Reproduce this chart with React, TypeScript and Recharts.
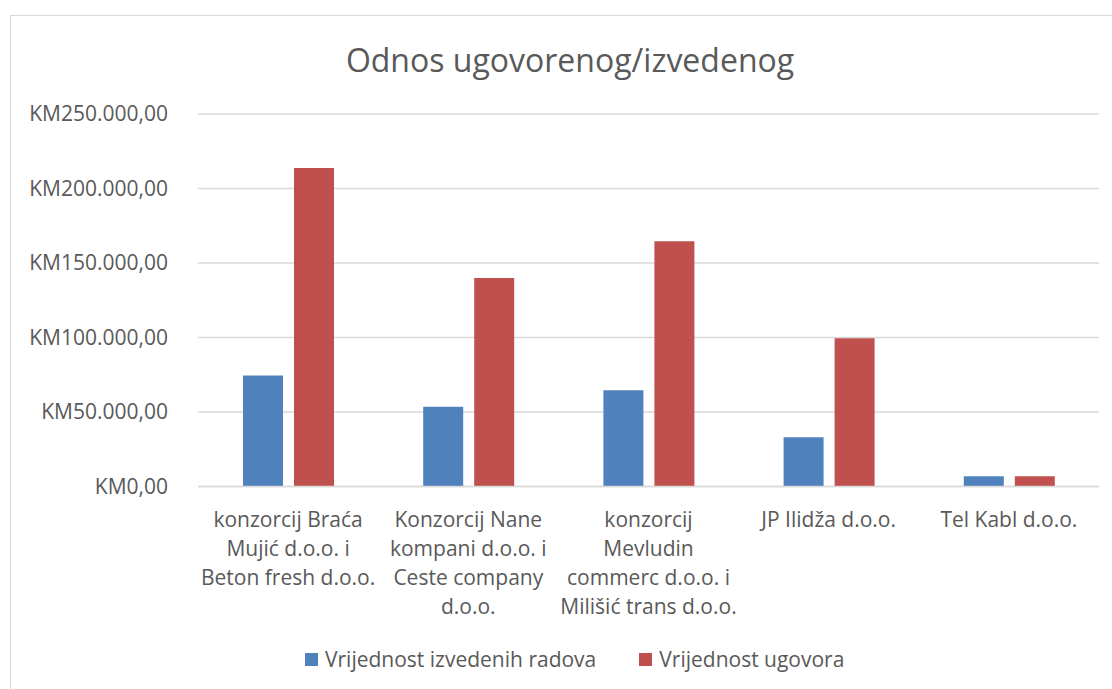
import React from "react";
import { Bar, BarChart, CartesianGrid, Legend, XAxis, YAxis } from "recharts";

const categories = [
  "konzorcij Braća\nMujić d.o.o. i\nBeton fresh d.o.o.",
  "Konzorcij Nane\nkompani d.o.o. i\nCeste company\nd.o.o.",
  "konzorcij\nMevludin\ncommerc d.o.o. i\nMilišić trans d.o.o.",
  "JP Ilidža d.o.o.",
  "Tel Kabl d.o.o.",
];
const izvedeno = [74500, 53500, 64600, 33100, 6900];
const ugovoreno = [213700, 140000, 164600, 99500, 6900];
const yTicks = [0, 50000, 100000, 150000, 200000, 250000];

const seriesNames = { izvedeno: "Vrijednost izvedenih radova", ugovoreno: "Vrijednost ugovora" };
const colors = { izvedeno: "#4F81BD", ugovoreno: "#C0504D" };
const font = "'Open Sans', sans-serif";
const textColor = "#595959";

const data = categories.map((name, i) => ({ name, izvedeno: izvedeno[i], ugovoreno: ugovoreno[i] }));

function formatKM(value: number) {
  const whole = Math.round(value).toString().replace(/\B(?=(\d{3})+(?!\d))/g, ".");
  return `KM${whole},00`;
}

function CategoryTick({ x, y, payload }: any) {
  const lines = String(payload.value).split("\n");
  return (
    <text x={x} y={y} textAnchor="middle" fill={textColor} fontSize={21} fontFamily={font}>
      {lines.map((line, i) => (
        <tspan key={i} x={x} y={y + 40.5 + i * 29}>{line}</tspan>
      ))}
    </text>
  );
}

function LegendContent() {
  const items = [
    { key: "izvedeno", label: seriesNames.izvedeno, color: colors.izvedeno },
    { key: "ugovoreno", label: seriesNames.ugovoreno, color: colors.ugovoreno },
  ];
  return (
    <div style={{ display: "flex", alignItems: "center", fontFamily: font, fontSize: 21, color: textColor }}>
      {items.map((item, i) => (
        <div key={item.key} style={{ display: "flex", alignItems: "center", marginRight: i === 0 ? 43 : 0 }}>
          <span style={{ display: "inline-block", width: 13, height: 13, background: item.color, marginRight: 7 }} />
          <span style={{ whiteSpace: "nowrap", lineHeight: "28px" }}>{item.label}</span>
        </div>
      ))}
    </div>
  );
}

export default function App() {
  return (
    <div style={{ position: "absolute", left: 0, top: 0, width: 1112, height: 689, overflow: "hidden", background: "#fff" }}>
      <div style={{ position: "absolute", left: 10, top: 15, width: 1200, height: 800, border: "1px solid #D9D9D9" }} />
      <div style={{ position: "absolute", left: 0, top: 0 }}>
        <BarChart
          width={1112}
          height={689}
          data={data}
          margin={{ top: 114, right: 13, left: 0, bottom: 72.5 }}
          barSize={40}
          barGap={11}
        >
          <text x={570} y={72} textAnchor="middle" fill={textColor} fontSize={32} fontFamily={font}>
            Odnos ugovorenog/izvedenog
          </text>
          <CartesianGrid vertical={false} stroke="#D9D9D9" strokeWidth={1.5} />
          <XAxis
            dataKey="name"
            height={130}
            interval={0}
            axisLine={{ stroke: "#D9D9D9", strokeWidth: 1.5 }}
            tickLine={false}
            tickSize={0}
            tickMargin={0}
            tick={<CategoryTick />}
          />
          <YAxis
            width={198}
            domain={[0, 250000]}
            ticks={yTicks}
            interval={0}
            axisLine={false}
            tickLine={false}
            tickSize={0}
            tickMargin={30}
            tickFormatter={formatKM}
            tick={{ fill: textColor, fontSize: 21, fontFamily: font }}
          />
          <Legend
            layout="horizontal"
            align="center"
            verticalAlign="middle"
            content={<LegendContent />}
            wrapperStyle={{ left: 305, top: 645, width: 600 }}
          />
          <Bar dataKey="izvedeno" name={seriesNames.izvedeno} fill={colors.izvedeno} isAnimationActive={false} />
          <Bar dataKey="ugovoreno" name={seriesNames.ugovoreno} fill={colors.ugovoreno} isAnimationActive={false} />
        </BarChart>
      </div>
    </div>
  );
}
